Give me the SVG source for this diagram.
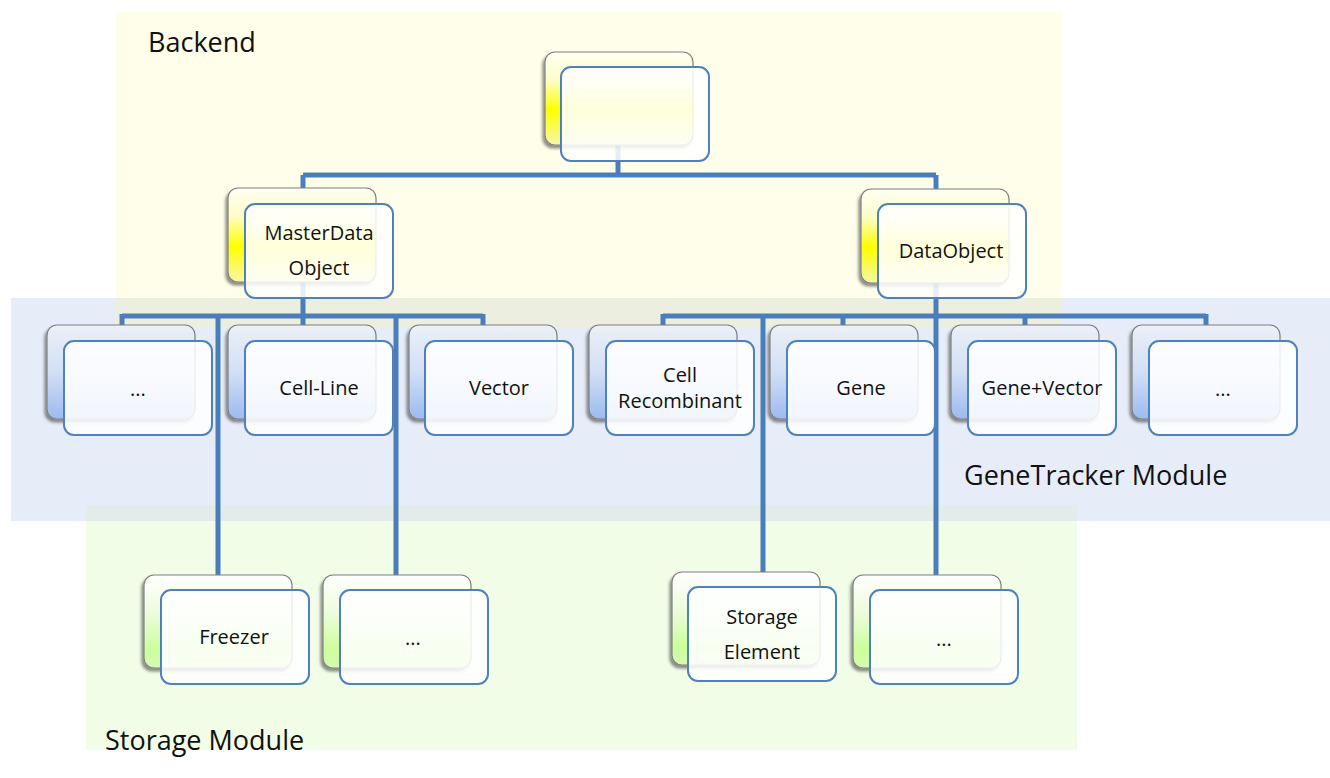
<svg xmlns="http://www.w3.org/2000/svg" width="1330" height="778" viewBox="0 0 1330 778">
<defs>
<linearGradient id="gy" x1="0" y1="0" x2="0" y2="1">
<stop offset="0" stop-color="#FFFFF4"/><stop offset="0.3" stop-color="#FDFDC8"/><stop offset="0.62" stop-color="#FFFF00"/><stop offset="1" stop-color="#F6F6A8"/>
</linearGradient>
<linearGradient id="gb" x1="0" y1="0" x2="0" y2="1">
<stop offset="0" stop-color="#ECF0F8"/><stop offset="0.5" stop-color="#D2DFF5"/><stop offset="1" stop-color="#9CBBF0"/>
</linearGradient>
<linearGradient id="gg" x1="0" y1="0" x2="0" y2="1">
<stop offset="0" stop-color="#FFFFFF"/><stop offset="0.45" stop-color="#EAFBD8"/><stop offset="0.8" stop-color="#CCFF99"/><stop offset="1" stop-color="#D6F8B4"/>
</linearGradient>
<filter id="sh" x="-10%" y="-10%" width="120%" height="125%">
<feDropShadow dx="-2" dy="3" stdDeviation="1.8" flood-color="#000" flood-opacity="0.45"/>
</filter>
<style>
.back{stroke:#7F7F7F;stroke-width:1.2;filter:url(#sh)}
.yb{fill:url(#gy)}
.bb{fill:url(#gb)}
.gb{fill:url(#gg)}
.front{fill:#FFFFFF;fill-opacity:0.86;stroke:#4F81BD;stroke-width:2}
.t{font-family:"Open Sans","Liberation Sans",sans-serif;font-size:20px;fill:#111;text-anchor:middle}
.lbl{font-family:"Open Sans","Liberation Sans",sans-serif;font-size:27px;fill:#111}
.con{fill:none;stroke:#4A7EBB;stroke-width:5;stroke-linejoin:miter;stroke-linecap:butt}
</style>
</defs>
<rect width="1330" height="778" fill="#FFFFFF"/>
<g id="regions">
<rect x="116" y="12" width="946" height="316" fill="#FEFEEA"/>
<rect x="11" y="298" width="1319" height="223" fill="#E7EDF8"/>
<rect x="116" y="298" width="946" height="30" fill="#ECEFDF"/>
<rect x="86" y="505" width="991" height="245" fill="#F2FDE8"/>
<rect x="86" y="505" width="991" height="16" fill="#E3ECEB"/>
<text class="lbl" x="148" y="52">Backend</text>
<text class="lbl" x="964" y="485">GeneTracker Module</text>
<text class="lbl" x="105" y="750">Storage Module</text>
</g>
<g id="connectors" class="con">
<path d="M618,110 V175"/>
<path d="M303,175 H936"/>
<path d="M303,175 V230"/>
<path d="M936,175 V230"/>
<path d="M303,250 V340"/>
<path d="M122,316 H483"/>
<path d="M122,314 V340"/>
<path d="M483,314 V340"/>
<path d="M218,316 V600"/>
<path d="M396,316 V600"/>
<path d="M936,250 V600"/>
<path d="M663,316 H1206"/>
<path d="M663,314 V340"/>
<path d="M843,316 V340"/>
<path d="M1025,316 V340"/>
<path d="M1206,314 V340"/>
<path d="M763,316 V600"/>
</g>
<g id="node-root">
<rect class="back yb" x="545" y="52" width="148" height="93" rx="10"/>
<rect class="front" x="561" y="67" width="148" height="94" rx="10"/>
</g>
<g id="node-masterdata">
<rect class="back yb" x="228" y="188" width="148" height="94" rx="10"/>
<rect class="front" x="245" y="204" width="148" height="94" rx="10"/>
<text class="t" x="319" y="240">MasterData</text>
<text class="t" x="319" y="275">Object</text>
</g>
<g id="node-dataobject">
<rect class="back yb" x="861" y="189" width="148" height="94" rx="10"/>
<rect class="front" x="878" y="204" width="148" height="94" rx="10"/>
<text class="t" x="951" y="258">DataObject</text>
</g>
<g id="node-dots1">
<rect class="back bb" x="47" y="325" width="148" height="94" rx="10"/>
<rect class="front" x="64" y="341" width="148" height="94" rx="10"/>
<text class="t" x="138" y="396">...</text>
</g>
<g id="node-cellline">
<rect class="back bb" x="228" y="325" width="148" height="94" rx="10"/>
<rect class="front" x="245" y="341" width="148" height="94" rx="10"/>
<text class="t" x="319" y="395">Cell-Line</text>
</g>
<g id="node-vector">
<rect class="back bb" x="409" y="325" width="148" height="94" rx="10"/>
<rect class="front" x="425" y="341" width="148" height="94" rx="10"/>
<text class="t" x="499" y="395">Vector</text>
</g>
<g id="node-cellrecombinant">
<rect class="back bb" x="589" y="325" width="148" height="94" rx="10"/>
<rect class="front" x="606" y="341" width="148" height="94" rx="10"/>
<text class="t" x="680" y="382">Cell</text>
<text class="t" x="680" y="408">Recombinant</text>
</g>
<g id="node-gene">
<rect class="back bb" x="770" y="325" width="148" height="94" rx="10"/>
<rect class="front" x="787" y="341" width="148" height="94" rx="10"/>
<text class="t" x="861" y="395">Gene</text>
</g>
<g id="node-genevector">
<rect class="back bb" x="951" y="325" width="148" height="94" rx="10"/>
<rect class="front" x="968" y="341" width="148" height="94" rx="10"/>
<text class="t" x="1042" y="395">Gene+Vector</text>
</g>
<g id="node-dots2">
<rect class="back bb" x="1132" y="325" width="148" height="94" rx="10"/>
<rect class="front" x="1149" y="341" width="148" height="94" rx="10"/>
<text class="t" x="1223" y="396">...</text>
</g>
<g id="node-freezer">
<rect class="back gb" x="144" y="575" width="148" height="93" rx="10"/>
<rect class="front" x="161" y="590" width="148" height="94" rx="10"/>
<text class="t" x="234" y="644">Freezer</text>
</g>
<g id="node-dots3">
<rect class="back gb" x="323" y="575" width="148" height="93" rx="10"/>
<rect class="front" x="340" y="590" width="148" height="94" rx="10"/>
<text class="t" x="413" y="645">...</text>
</g>
<g id="node-storageelement">
<rect class="back gb" x="672" y="572" width="148" height="93" rx="10"/>
<rect class="front" x="688" y="587" width="148" height="94" rx="10"/>
<text class="t" x="762" y="624">Storage</text>
<text class="t" x="762" y="659">Element</text>
</g>
<g id="node-dots4">
<rect class="back gb" x="853" y="575" width="148" height="93" rx="10"/>
<rect class="front" x="870" y="590" width="148" height="94" rx="10"/>
<text class="t" x="944" y="646">...</text>
</g>
</svg>
